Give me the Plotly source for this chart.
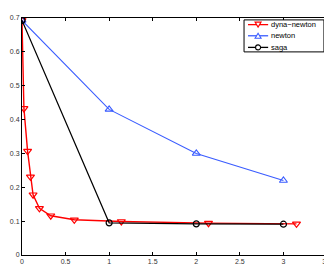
import plotly.graph_objects as go

dyna_x = [0, 0.022, 0.064, 0.097, 0.127, 0.2, 0.33, 0.60, 1.14, 2.14, 3.15]
dyna_y = [0.693, 0.433, 0.307, 0.231, 0.178, 0.138, 0.116, 0.104, 0.099, 0.094, 0.092]
newton_x = [0, 1, 2, 3]
newton_y = [0.693, 0.43, 0.30, 0.22]
saga_x = [0, 1, 2, 3]
saga_y = [0.693, 0.095, 0.092, 0.091]

series_names = ["dyna\u2212newton", "newton", "saga"]
series_colors = ["#ff0000", "#3a5cff", "#000000"]

x_ticks = [0, 0.5, 1, 1.5, 2, 2.5, 3, 3.5]
x_labels = ["0", "0.5", "1", "1.5", "2", "2.5", "3", "3.5"]
y_ticks = [0, 0.1, 0.2, 0.3, 0.4, 0.5, 0.6, 0.7]
y_labels = ["0", "0.1", "0.2", "0.3", "0.4", "0.5", "0.6", "0.7"]

FONT = "Liberation Sans, Arial"

fig = go.Figure()
fig.add_trace(go.Scatter(x=dyna_x, y=dyna_y, name=series_names[0], mode="lines+markers",
                         line=dict(color=series_colors[0], width=1.4),
                         marker=dict(symbol="triangle-down-open", size=7, color=series_colors[0], line=dict(width=1.2))))
fig.add_trace(go.Scatter(x=newton_x, y=newton_y, name=series_names[1], mode="lines+markers",
                         line=dict(color=series_colors[1], width=1.1),
                         marker=dict(symbol="triangle-up-open", size=7, color=series_colors[1], line=dict(width=1.1))))
fig.add_trace(go.Scatter(x=saga_x, y=saga_y, name=series_names[2], mode="lines+markers",
                         line=dict(color=series_colors[2], width=1.2),
                         marker=dict(symbol="circle-open", size=6, color=series_colors[2], line=dict(width=1.2))))

# compact MATLAB-style legend box
shapes = [dict(type="rect", xref="paper", yref="paper", x0=0.728, x1=0.990, y0=0.857, y1=0.992,
               line=dict(color="#000000", width=1), fillcolor="#ffffff", layer="above")]
annotations = []
row_y = [0.972, 0.925, 0.876]
marker_paths = ["M-3,2.5 L3,2.5 L0,-2.5 Z", "M-3,-2.5 L3,-2.5 L0,2.5 Z", None]
for name, color, ry, mp in zip(series_names, series_colors, row_y, marker_paths):
    shapes.append(dict(type="line", xref="paper", yref="paper", x0=0.741, x1=0.807, y0=ry, y1=ry,
                       line=dict(color=color, width=1.3), layer="above"))
    if mp is not None:
        shapes.append(dict(type="path", xref="paper", yref="paper", xsizemode="pixel", ysizemode="pixel",
                           xanchor=0.774, yanchor=ry, path=mp, line=dict(color=color, width=1.1),
                           fillcolor="#ffffff", layer="above"))
    else:
        shapes.append(dict(type="circle", xref="paper", yref="paper", xsizemode="pixel", ysizemode="pixel",
                           xanchor=0.774, yanchor=ry, x0=-2.5, x1=2.5, y0=-2.5, y1=2.5,
                           line=dict(color=color, width=1.1), fillcolor="#ffffff", layer="above"))
    annotations.append(dict(xref="paper", yref="paper", x=0.813, y=ry, text=name, showarrow=False,
                            xanchor="left", yanchor="middle", borderpad=0,
                            font=dict(family=FONT, size=7.5, color="#000000")))

axis_common = dict(showgrid=False, zeroline=False, showline=True, linecolor="#000000", linewidth=1,
                   mirror="ticks", ticks="inside", ticklen=3, tickcolor="#000000", automargin=False,
                   tickfont=dict(family=FONT, size=7, color="#333333"))

fig.update_layout(
    width=332, height=264,
    margin=dict(l=14, r=13, t=10, b=17, pad=0),
    paper_bgcolor="#ffffff", plot_bgcolor="#ffffff",
    xaxis=dict(range=[0, 3.5], tickvals=x_ticks, ticktext=x_labels, **axis_common),
    yaxis=dict(range=[0, 0.7], tickvals=y_ticks, ticktext=y_labels, **axis_common),
    shapes=shapes, annotations=annotations,
    showlegend=False,
)

fig.write_html("out.html")
